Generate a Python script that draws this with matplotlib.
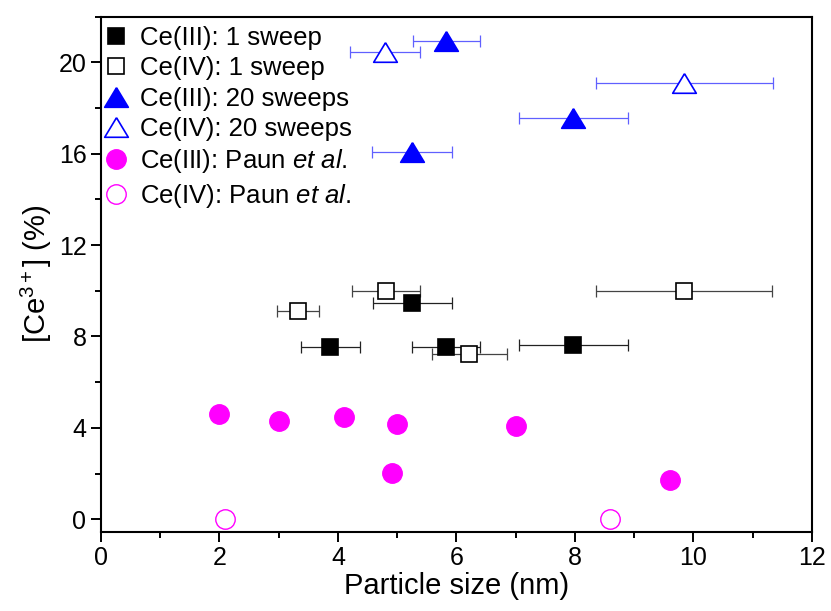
import matplotlib
matplotlib.use('agg')
import matplotlib.pyplot as plt
from matplotlib.ticker import MultipleLocator

plt.rcParams['font.family'] = ['Liberation Sans', 'DejaVu Sans']
plt.rcParams['mathtext.fontset'] = 'custom'
plt.rcParams['mathtext.rm'] = 'Liberation Sans'
plt.rcParams['mathtext.it'] = 'Liberation Sans:italic'

# Ce(III), 1 sweep
c3_1_x = [3.87, 5.25, 5.82, 7.97]
c3_1_y = [7.53, 9.45, 7.54, 7.63]
c3_1_lo = [3.37, 4.60, 5.25, 7.05]
c3_1_hi = [4.37, 5.93, 6.39, 8.89]

# Ce(IV), 1 sweep
c4_1_x = [3.32, 4.81, 6.21, 9.84]
c4_1_y = [9.10, 9.97, 7.22, 9.97]
c4_1_lo = [2.97, 4.23, 5.58, 8.36]
c4_1_hi = [3.68, 5.38, 6.85, 11.33]

# Ce(III), 20 sweeps
c3_20_x = [5.25, 5.83, 7.97]
c3_20_y = [16.06, 20.93, 17.56]
c3_20_lo = [4.58, 5.26, 7.05]
c3_20_hi = [5.93, 6.39, 8.89]

# Ce(IV), 20 sweeps
c4_20_x = [4.79, 9.84]
c4_20_y = [20.46, 19.08]
c4_20_lo = [4.21, 8.35]
c4_20_hi = [5.38, 11.34]

# Paun et al.
paun3_x = [2.0, 3.0, 4.1, 5.0, 4.92, 7.0, 9.6]
paun3_y = [4.59, 4.28, 4.48, 4.16, 2.03, 4.07, 1.73]
paun4_x = [2.09, 8.6]
paun4_y = [0.03, 0.01]


def xerr(x, lo, hi):
    return [[a - b for a, b in zip(x, lo)], [b - a for a, b in zip(x, hi)]]


tri = [(0, 0.83), (-1, -0.83), (1, -0.83), (0, 0.83)]

fig = plt.figure(figsize=(8.31, 6.11), dpi=100)
ax = fig.add_axes([0.1215, 0.13, 0.8555, 0.8427])

ebkw = dict(fmt='none', elinewidth=0.9, capsize=4.3, capthick=0.9)
ax.errorbar(c3_1_x, c3_1_y, xerr=xerr(c3_1_x, c3_1_lo, c3_1_hi), ecolor='#222222', **ebkw)
ax.errorbar(c4_1_x, c4_1_y, xerr=xerr(c4_1_x, c4_1_lo, c4_1_hi), ecolor='#444444', **ebkw)
ax.errorbar(c3_20_x, c3_20_y, xerr=xerr(c3_20_x, c3_20_lo, c3_20_hi), ecolor='#6060ff', **ebkw)
ax.errorbar(c4_20_x, c4_20_y, xerr=xerr(c4_20_x, c4_20_lo, c4_20_hi), ecolor='#6060ff', **ebkw)

ax.plot(c3_1_x, c3_1_y, 's', ms=12, mfc='black', mec='black', mew=1.2,
        label='Ce(III): 1 sweep')
ax.plot(c4_1_x, c4_1_y, 's', ms=12, mfc='white', mec='black', mew=1.2,
        label='Ce(IV): 1 sweep')
ax.plot(c3_20_x, c3_20_y, marker=tri, ls='none', ms=17, mfc='blue', mec='blue', mew=1.2,
        label='Ce(III): 20 sweeps')
ax.plot(c4_20_x, c4_20_y, marker=tri, ls='none', ms=17, mfc='white', mec='blue', mew=1.2,
        label='Ce(IV): 20 sweeps')
ax.plot(paun3_x, paun3_y, 'o', ms=14, mfc='magenta', mec='magenta', mew=1.0,
        label=r'Ce(III): Paun $\it{et\ al.}$')
ax.plot(paun4_x, paun4_y, 'o', ms=14, mfc='white', mec='magenta', mew=1.0,
        label=r'Ce(IV): Paun $\it{et\ al.}$')

ax.set_xlim(0, 12)
ax.set_ylim(-0.54, 22)
ax.xaxis.set_major_locator(MultipleLocator(2))
ax.xaxis.set_minor_locator(MultipleLocator(1))
ax.yaxis.set_major_locator(MultipleLocator(4))
ax.yaxis.set_minor_locator(MultipleLocator(2))
ax.tick_params(which='both', direction='out', width=1.4, labelsize=18, top=False, right=False)
ax.tick_params(which='major', length=7)
ax.tick_params(which='minor', length=4)
for s in ax.spines.values():
    s.set_linewidth(1.5)

ax.set_xlabel('Particle size (nm)', fontsize=21, labelpad=1)
ax.set_ylabel(r'[Ce$^{3+}$] (%)', fontsize=21, labelpad=3)

ax.legend(loc='upper left', bbox_to_anchor=(0.0, 0.99), frameon=False,
          fontsize=18.5, handlelength=0.9, handletextpad=0.45,
          labelspacing=0.25, borderaxespad=0.0, borderpad=0.15)

plt.savefig('out.png')
